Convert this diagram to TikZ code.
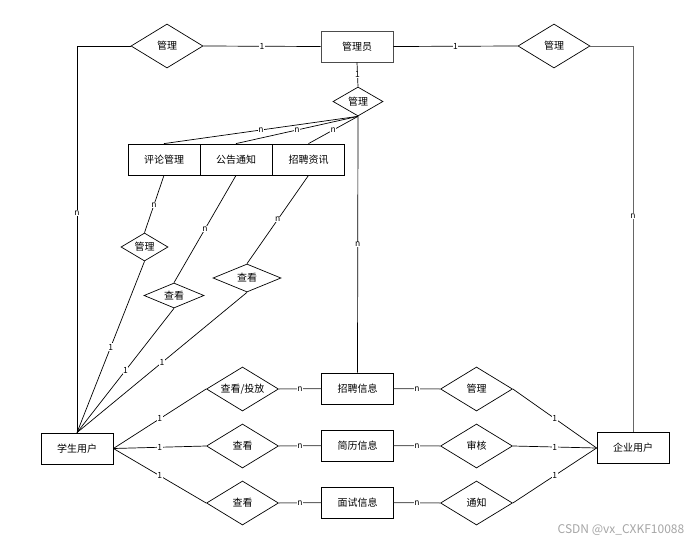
\documentclass[tikz,border=0pt]{standalone}
\usepackage{fontspec}
\setmainfont{Noto Sans CJK SC}
\usetikzlibrary{shapes.geometric}
\begin{document}
\begin{tikzpicture}[x=1pt,y=-1pt,
  entbox/.style={draw, rectangle, minimum width=72pt, minimum height=31pt, inner sep=0pt, font=\fontsize{10}{12}\selectfont, line width=0.8pt},
  rel/.style={draw, diamond, minimum width=72pt, minimum height=44pt, inner sep=0pt, aspect=1.6, font=\fontsize{10}{12}\selectfont, line width=0.7pt},
  lab/.style={fill=white, inner sep=0.6pt, font=\fontsize{8.5}{9}\selectfont},
  conn/.style={line width=0.7pt}]
\fill[white] (0,0) rectangle (697,544);
\path[use as bounding box] (0,0) rectangle (697,544);

% top row
\node[entbox, draw=black!70] (admin) at (357,46.5) {管理员};
\node[rel] (dL) at (167,46) {管理};
\node[rel] (dR) at (554,46) {管理};
\node[rel, minimum width=50pt, minimum height=29pt] (dM) at (358,101.5) {管理};

% middle boxes
\node[entbox] (pl) at (164,159.5) {评论管理};
\node[entbox] (gg) at (236,159.5) {公告通知};
\node[entbox] (zp) at (308.5,159.5) {招聘资讯};

% small diamonds
\node[rel, minimum width=47pt, minimum height=28pt] (d1) at (144.5,247) {管理};
\node[rel, minimum width=60pt, minimum height=25pt] (d2) at (174,295.5) {查看};
\node[rel, minimum width=68pt, minimum height=28pt] (d3) at (247,278) {查看};

% bottom
\node[entbox] (stu) at (77,448.5) {学生用户};
\node[entbox] (com) at (633,448) {企业用户};

\node[rel] (r1) at (242.5,389) {查看/投放};
\node[rel] (r2) at (242.5,446) {查看};
\node[rel] (r3) at (242.5,503) {查看};

\node[entbox] (b1) at (357.5,388.5) {招聘信息};
\node[entbox] (b2) at (357.5,445.5) {简历信息};
\node[entbox] (b3) at (357.5,502.5) {面试信息};

\node[rel] (q1) at (476.5,389) {管理};
\node[rel] (q2) at (476.5,446) {审核};
\node[rel] (q3) at (476.5,503) {通知};

% connectors top
\draw[conn] (dL.east) -- node[lab, pos=0.5] {1} (admin.west);
\draw[conn] (admin.east) -- node[lab, pos=0.5] {1} (dR.west);
\draw[conn] (dL.west) -| node[lab, pos=0.716] {n} (stu.north);
\draw[conn, draw=black!60, line width=1pt] (dR.east) -| node[lab, pos=0.72] {n} (com.north);
\draw[conn] (admin.south) -- node[lab] {1} (dM.north);
\draw[conn] (dM.south) -- node[lab, pos=0.5] {n} (pl.north);
\draw[conn] (dM.south) -- node[lab, pos=0.5] {n} (gg.north);
\draw[conn] (dM.south) -- node[lab, pos=0.5] {n} (zp.north);
\draw[conn] (dM.south) -- node[lab] {n} (b1.north);

% middle to small diamonds
\draw[conn] (pl.south) -- node[lab, pos=0.52] {n} (d1.north);
\draw[conn] (gg.south) -- node[lab, pos=0.5] {n} (d2.north);
\draw[conn] (zp.south) -- node[lab, pos=0.5] {n} (d3.north);

% small diamonds to student
\draw[conn] (d1.south) -- node[lab, pos=0.5] {1} (stu.north);
\draw[conn] (d2.south) -- node[lab, pos=0.5] {1} (stu.north);
\draw[conn] (d3.south) -- node[lab, pos=0.5] {1} (stu.north);

% bottom rows
\draw[conn] (stu.east) -- node[lab] {1} (r1.west);
\draw[conn] (stu.east) -- node[lab] {1} (r2.west);
\draw[conn] (stu.east) -- node[lab] {1} (r3.west);

\draw[conn, draw=black!60, line width=1pt] (r1.east) -- node[lab] {n} (b1.west);
\draw[conn, draw=black!60, line width=1pt] (r2.east) -- node[lab] {n} (b2.west);
\draw[conn, draw=black!60, line width=1pt] (r3.east) -- node[lab] {n} (b3.west);

\draw[conn, draw=black!60, line width=1pt] (b1.east) -- node[lab] {n} (q1.west);
\draw[conn, draw=black!60, line width=1pt] (b2.east) -- node[lab] {n} (q2.west);
\draw[conn, draw=black!60, line width=1pt] (b3.east) -- node[lab] {n} (q3.west);

\draw[conn] (q1.east) -- node[lab] {1} (com.west);
\draw[conn] (q2.east) -- node[lab] {1} (com.west);
\draw[conn] (q3.east) -- node[lab] {1} (com.west);

% watermark
\node[text=black!35, font=\fontsize{12}{14}\selectfont, inner sep=0pt] (wm) at (621,530) {CSDN @vx\_CXKF10088};
\end{tikzpicture}
\end{document}
